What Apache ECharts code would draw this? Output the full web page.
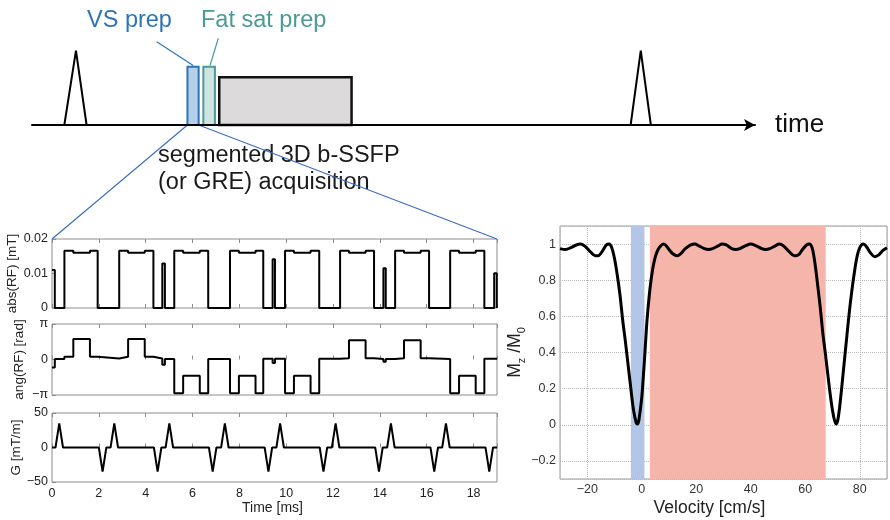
<!DOCTYPE html>
<html>
<head>
<meta charset="utf-8">
<script src="https://cdn.jsdelivr.net/npm/echarts/dist/echarts.min.js"></script>
<style>html,body{margin:0;padding:0;background:#fff}#chart{width:890px;height:520px}</style>
</head>
<body>
<div id="chart"></div>
<script>
// sequence diagram, arbitrary time units (0..100), amplitude 0..1
const ecgX = [0, 4.47, 6.08, 7.55, 82.8, 84.2, 85.6, 99]
const ecgY = [0, 0, 0.874, 0, 0, 0.874, 0, 0]
const boxStart = [21.5, 23.7, 25.9]   // VS prep, fat sat prep, acquisition
const boxEnd = [23.05, 25.3, 44.2]
const boxTop = [0.686, 0.686, 0.561]

// VS prep waveforms, time in ms (step breakpoints)
const absT = [0, 0.12, 0.53, 0.91, 1.62, 1.95, 2.87, 3.25, 3.96, 4.33, 4.71, 4.82, 5.22, 5.6, 6.31, 6.67,
  7.6, 7.98, 8.69, 9.02, 9.42, 9.52, 9.95, 10.33, 11.04, 11.41, 12.3, 12.68, 13.39, 13.75, 14.15, 14.25,
  14.65, 15.03, 15.74, 16.1, 17.0, 17.38, 18.09, 18.46, 18.88, 18.99, 19]
const absV = [0.011, 0, 0.0166, 0.016, 0.0166, 0, 0.0166, 0.016, 0.0166, 0, 0.0129, 0, 0.0166, 0.016, 0.0166, 0,
  0.0166, 0.016, 0.0166, 0, 0.0141, 0, 0.0166, 0.016, 0.0166, 0, 0.0166, 0.016, 0.0166, 0, 0.0115, 0,
  0.0166, 0.016, 0.0166, 0, 0.0166, 0.016, 0.0166, 0, 0.0101, 0, 0]

const angT = [0, 0.12, 0.53, 0.91, 1.62, 1.95, 2.87, 3.25, 3.96, 4.33, 4.71, 4.82, 5.22, 5.6, 6.31, 6.67,
  7.6, 7.98, 8.69, 9.02, 9.42, 9.52, 9.95, 10.33, 11.04, 11.41, 12.3, 12.68, 13.39, 13.75, 14.15, 14.25,
  14.65, 15.03, 15.74, 16.1, 17.0, 17.38, 18.09, 18.46, 19]
const angV = [-0.71, 0.04, 0.24, 1.81, 0.24, 0.09, 0.24, 1.81, 0.24, 0.09, -0.47, 0.04, -2.99, -1.44, -2.99, 0.04,
  -2.99, -1.44, -2.99, 0.06, -0.32, 0.06, -2.99, -1.44, -2.99, 0.06, 0.12, 1.7, 0.12, 0.04, -0.2, 0.04,
  0.12, 1.7, 0.12, 0.04, -2.99, -1.44, -2.99, 0.06, 0.06]

const gradT = [0, 0.15, 0.31, 0.47, 2.0, 2.16, 2.32, 2.5, 2.66, 2.82, 4.35, 4.51, 4.67, 4.85, 5.01, 5.17,
  6.7, 6.86, 7.02, 7.22, 7.38, 7.54, 9.08, 9.24, 9.4, 9.58, 9.74, 9.9, 11.43, 11.59, 11.75, 11.95, 12.11, 12.27,
  13.8, 13.96, 14.12, 14.31, 14.47, 14.63, 16.16, 16.32, 16.48, 16.66, 16.82, 16.98, 18.51, 18.67, 18.83, 19]
const gradV = [0, 0, 35, 0, 0, -35, 0, 0, 35, 0, 0, -35, 0, 0, 35, 0,
  0, -35, 0, 0, 35, 0, 0, -35, 0, 0, 35, 0, 0, -35, 0, 0, 35, 0,
  0, -35, 0, 0, 35, 0, 0, -35, 0, 0, 35, 0, 0, -35, 0, 0]
const timeTicks = [0, 2, 4, 6, 8, 10, 12, 14, 16, 18]

// velocity response
const velocity = [-30, -28, -26, -24, -22.5, -21, -19, -17, -16, -14.5, -13, -12, -11, -10, -9, -8, -7, -6, -5, -4,
  -3, -2, -1.5, -1, 0, 0.5, 1, 1.5, 2, 3, 4, 5, 6, 7, 8, 9, 10, 11.5, 13, 14.5, 16, 18, 19.5, 21, 23, 24.5, 26,
  28, 29.5, 31, 33, 34.5, 36, 38, 40, 42, 44, 45.5, 47, 49, 50.5, 52, 54, 56, 57.5, 59, 60.5, 61.5, 62.5, 63.5,
  64.5, 65.5, 66.5, 67.5, 68.5, 69.5, 70.5, 71.3, 72, 73, 74, 75, 76, 77, 78, 79, 80, 81.3, 82.5, 84, 85.5, 87,
  88.5, 90]
const mz = [0.975, 0.97, 0.98, 0.995, 1.0, 0.99, 0.96, 0.935, 0.935, 0.96, 0.995, 1.0, 0.98, 0.92, 0.83, 0.72,
  0.58, 0.46, 0.33, 0.2, 0.08, 0.01, 0.005, 0.03, 0.15, 0.25, 0.36, 0.48, 0.59, 0.75, 0.86, 0.93, 0.97, 0.99,
  1.0, 0.99, 0.97, 0.945, 0.935, 0.95, 0.975, 0.995, 1.0, 0.99, 0.975, 0.97, 0.975, 0.99, 1.0, 0.995, 0.975,
  0.97, 0.975, 0.99, 1.0, 0.99, 0.975, 0.97, 0.975, 0.99, 1.0, 0.99, 0.96, 0.935, 0.94, 0.97, 0.995, 1.0, 0.98,
  0.9, 0.78, 0.65, 0.5, 0.38, 0.25, 0.13, 0.04, 0.005, 0.03, 0.15, 0.3, 0.45, 0.6, 0.73, 0.84, 0.93, 0.98, 1.0,
  0.985, 0.95, 0.93, 0.94, 0.965, 0.98]
const vsBand = [-4, 1]
const passBand = [3, 67.5]

const zip = (a, b) => a.map((v, i) => [v, b[i]])
const FONT = 'Liberation Sans, Arial, sans-serif'
const frame = '#8c8c8c'
const minus = s => String(s).replace('-', '\u2212')

const chart = echarts.init(document.getElementById('chart'))

function panelX(grid, labels) {
  return {
    type: 'value', gridIndex: grid, min: 0, max: 19, interval: 2,
    axisLine: {show: false},
    axisTick: {show: true, inside: true, length: 4, lineStyle: {color: frame}},
    axisLabel: {show: labels, fontSize: 12.5, color: '#222', margin: 5,
      formatter: v => (timeTicks.includes(v) ? v : '')},
    splitLine: {show: false}
  }
}
function panelTop(grid) {
  let a = panelX(grid, false)
  a.position = 'top'
  return a
}
function panelY(grid, o) {
  return Object.assign({
    type: 'value', gridIndex: grid,
    axisLine: {show: false},
    axisTick: {show: true, inside: true, length: 4, lineStyle: {color: frame}},
    splitLine: {show: false},
    nameLocation: 'middle', nameGap: 26,
    nameTextStyle: {fontSize: 13.5, color: '#222', fontFamily: FONT}
  }, o, {axisLabel: Object.assign({fontSize: 12.5, color: '#222', margin: 4}, o.axisLabel)})
}

const blackLine = {color: '#000', width: 2}
const bigText = '23.5px ' + FONT

chart.setOption({
  animation: false,
  textStyle: {fontFamily: FONT},
  grid: [
    {left: 32, top: 0, width: 723, height: 125},
    {left: 52, top: 239, width: 445, height: 69, show: true, borderColor: frame, borderWidth: 1},
    {left: 52, top: 324, width: 445, height: 71, show: true, borderColor: frame, borderWidth: 1},
    {left: 52, top: 413, width: 445, height: 69, show: true, borderColor: frame, borderWidth: 1},
    {left: 560, top: 226, width: 340, height: 253, show: true, borderColor: '#9a9a9a', borderWidth: 1}
  ],
  xAxis: [
    {type: 'value', gridIndex: 0, min: 0, max: 100,
      axisLine: {show: true, symbol: ['none', 'arrow'], symbolSize: [9, 11], lineStyle: {color: '#000', width: 2}},
      axisTick: {show: false}, axisLabel: {show: false}, splitLine: {show: false},
      name: 'time', nameLocation: 'end', nameGap: 20,
      nameTextStyle: {fontSize: 26, color: '#111', fontFamily: FONT, verticalAlign: 'middle'}},
    panelX(1, false),
    panelX(2, false),
    Object.assign(panelX(3, true), {name: 'Time [ms]', nameLocation: 'middle', nameGap: 19,
      nameTextStyle: {fontSize: 14, color: '#222', fontFamily: FONT, padding: [0, 4, 0, 0]}}),
    {type: 'value', gridIndex: 4, min: -30, max: 90, splitNumber: 6,
      axisLine: {show: false}, axisTick: {show: false},
      axisLabel: {fontSize: 12.5, color: '#333', margin: 4,
        formatter: v => (v % 20 === 0 ? minus(v) : '')},
      splitLine: {show: true, lineStyle: {type: 'dotted', color: '#b8b8b8'}},
      name: 'Velocity [cm/s]', nameLocation: 'middle', nameGap: 20,
      nameTextStyle: {fontSize: 17.5, color: '#222', fontFamily: FONT, padding: [0, 28, 0, 0]}},
    panelTop(1), panelTop(2), panelTop(3)
  ],
  yAxis: [
    {type: 'value', gridIndex: 0, min: 0, max: 1.47, show: false},
    panelY(1, {min: 0, max: 0.02, interval: 0.01, name: 'abs(RF) [mT]',
      axisLabel: {formatter: v => (v === 0 ? '0' : v.toFixed(2))}}),
    panelY(2, {min: -Math.PI, max: Math.PI, interval: Math.PI, name: 'ang(RF) [rad]',
      axisLabel: {formatter: v => (v > 0.1 ? '\u03c0' : v < -0.1 ? '\u2212\u03c0' : '0')}}),
    panelY(3, {min: -50, max: 50, interval: 50, name: 'G [mT/m]',
      axisLabel: {formatter: v => minus(v)}}),
    {type: 'value', gridIndex: 4, min: -0.3, max: 1.1, splitNumber: 7,
      axisLine: {show: false}, axisTick: {show: false},
      axisLabel: {fontSize: 12.5, color: '#333', margin: 4,
        formatter: v => {
          const k = Math.round(v * 5)
          return Math.abs(v * 5 - k) > 1e-6 ? '' : minus(k / 5)
        }},
      splitLine: {show: true, lineStyle: {type: 'dotted', color: '#b8b8b8'}},
      name: '{m|M}{s|z}{m| /M}{s|0}', nameLocation: 'middle', nameGap: 18,
      nameTextStyle: {fontSize: 17.5, color: '#222', fontFamily: FONT,
        rich: {m: {fontSize: 17.5, fontFamily: FONT, color: '#222', verticalAlign: 'bottom', padding: [0, 0, 3, 0]},
               s: {fontSize: 11, fontFamily: FONT, color: '#222', verticalAlign: 'bottom'}}}}
  ],
  series: [
    {type: 'line', xAxisIndex: 0, yAxisIndex: 0, data: zip(ecgX, ecgY), showSymbol: false,
      lineStyle: blackLine, silent: true, z: 3,
      markArea: {silent: true, label: {show: false},
        data: boxStart.map((s, i) => [
          {xAxis: s, yAxis: 0, itemStyle: [
            {color: '#b5d0ea', borderColor: '#2e74b5', borderWidth: 2},
            {color: '#cfe3e1', borderColor: '#4a9b96', borderWidth: 2},
            {color: '#dcdadb', borderColor: '#111', borderWidth: 2.5}][i]},
          {xAxis: boxEnd[i], yAxis: boxTop[i]}])},
      markLine: {silent: true, symbol: ['none', 'none'], label: {show: false},
        data: [
          [{coord: [17.25, 0.98], lineStyle: {color: '#2e74b5', width: 1.2, type: 'solid'}}, {coord: [22.3, 0.7]}],
          [{coord: [25.77, 1.02], lineStyle: {color: '#4a9b96', width: 1.2, type: 'solid'}}, {coord: [24.62, 0.7]}]
        ]}},
    {type: 'line', xAxisIndex: 1, yAxisIndex: 1, step: 'end', data: zip(absT, absV),
      showSymbol: false, lineStyle: blackLine, silent: true},
    {type: 'line', xAxisIndex: 2, yAxisIndex: 2, step: 'end', data: zip(angT, angV),
      showSymbol: false, lineStyle: blackLine, silent: true},
    {type: 'line', xAxisIndex: 3, yAxisIndex: 3, data: zip(gradT, gradV),
      showSymbol: false, lineStyle: blackLine, silent: true},
    {type: 'line', xAxisIndex: 4, yAxisIndex: 4, data: zip(velocity, mz), smooth: 0.35,
      showSymbol: false, lineStyle: {color: '#000', width: 3}, silent: true,
      markArea: {silent: true, label: {show: false},
        data: [
          [{xAxis: vsBand[0], itemStyle: {color: '#b4c6e6'}}, {xAxis: vsBand[1]}],
          [{xAxis: passBand[0], itemStyle: {color: '#f5b5aa'}}, {xAxis: passBand[1]}]
        ]}}
  ],
  graphic: [
    {id: 't1', type: 'text', x: 87, y: 21, style: {text: 'VS prep', font: bigText, fill: '#2e74b5', verticalAlign: 'middle', textVerticalAlign: 'middle'}},
    {id: 't2', type: 'text', x: 201, y: 21, style: {text: 'Fat sat prep', font: bigText, fill: '#4a9b96', verticalAlign: 'middle', textVerticalAlign: 'middle'}},
    {id: 't3', type: 'text', x: 158, y: 156, style: {text: 'segmented 3D b-SSFP', font: bigText, fill: '#1a1a1a', verticalAlign: 'middle', textVerticalAlign: 'middle'}},
    {id: 't4', type: 'text', x: 158, y: 183, style: {text: '(or GRE) acquisition', font: bigText, fill: '#1a1a1a', verticalAlign: 'middle', textVerticalAlign: 'middle'}}
  ]
})

// zoom lines from the VS prep box to the waveform panel
const a0 = chart.convertToPixel({gridIndex: 0}, [boxStart[0], 0])
const a1 = chart.convertToPixel({gridIndex: 0}, [boxEnd[0], 0])
const b0 = chart.convertToPixel({gridIndex: 1}, [0, 0.02])
const b1 = chart.convertToPixel({gridIndex: 1}, [19, 0.02])
chart.setOption({
  graphic: [
    {id: 'z1', type: 'line', shape: {x1: a0[0], y1: a0[1], x2: b0[0], y2: b0[1]}, style: {stroke: '#3d6fc2', lineWidth: 1.2}, z: 1},
    {id: 'z2', type: 'line', shape: {x1: a1[0], y1: a1[1], x2: b1[0], y2: b1[1]}, style: {stroke: '#3d6fc2', lineWidth: 1.2}, z: 1}
  ]
})
</script>
</body>
</html>
